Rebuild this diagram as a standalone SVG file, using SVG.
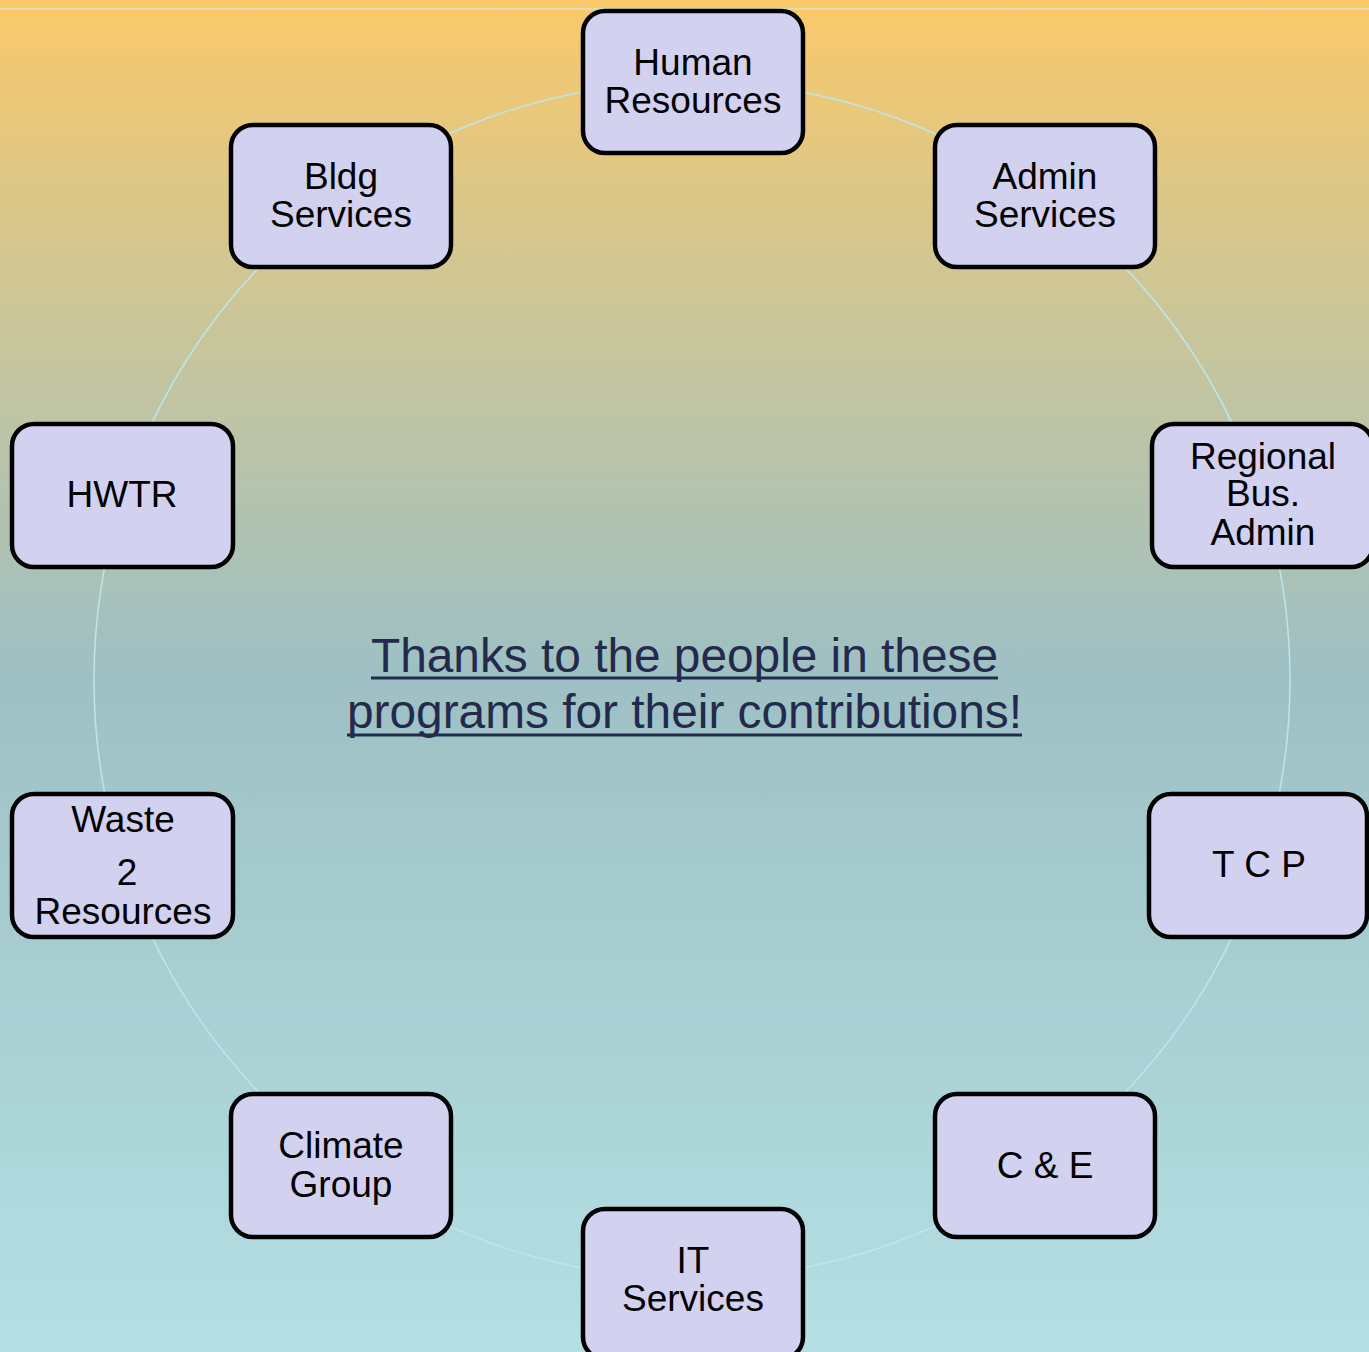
<svg xmlns="http://www.w3.org/2000/svg" width="1369" height="1352" viewBox="0 0 1369 1352">
<defs>
<linearGradient id="bg" x1="0" y1="0" x2="0" y2="1">
<stop offset="0" stop-color="#fac96a"/>
<stop offset="0.22" stop-color="#cdc696"/>
<stop offset="0.5" stop-color="#9ec0c4"/>
<stop offset="1" stop-color="#b4e0e3"/>
</linearGradient>
<style>
.box{fill:#d2d2f0;stroke:#000;stroke-width:4.5}
.lbl{font-family:"Liberation Sans",Arial,sans-serif;font-size:37px;fill:#000;text-anchor:middle}
.title{font-family:"Liberation Sans",Arial,sans-serif;font-size:48px;fill:#232a4c}
.ul{stroke:#232a4c;stroke-width:3}
</style>
</defs>
<rect width="1369" height="1352" fill="url(#bg)"/>
<line x1="0" y1="9" x2="1369" y2="9" stroke="#cfe3d6" stroke-width="1.5"/>
<g id="connectors">
<circle cx="692" cy="680" r="598" fill="none" stroke="#bde6ea" stroke-width="1.5"/>
</g>
<g id="hr"><rect class="box" x="583" y="11" width="220" height="142" rx="22"/><text class="lbl" x="693" y="75">Human</text><text class="lbl" x="693" y="113">Resources</text></g>
<g id="admin"><rect class="box" x="935" y="125" width="220" height="142" rx="22"/><text class="lbl" x="1045" y="189">Admin</text><text class="lbl" x="1045" y="227">Services</text></g>
<g id="bldg"><rect class="box" x="231" y="125" width="220" height="142" rx="22"/><text class="lbl" x="341" y="189">Bldg</text><text class="lbl" x="341" y="227">Services</text></g>
<g id="hwtr"><rect class="box" x="12" y="424" width="221" height="143" rx="22"/><text class="lbl" x="122" y="507">HWTR</text></g>
<g id="regional"><rect class="box" x="1152" y="424" width="221" height="143" rx="22"/><text class="lbl" x="1263" y="469">Regional</text><text class="lbl" x="1263" y="506">Bus.</text><text class="lbl" x="1263" y="545">Admin</text></g>
<g id="waste"><rect class="box" x="12" y="794" width="221" height="143" rx="22"/><text class="lbl" x="123" y="832">Waste</text><text class="lbl" x="127" y="885">2</text><text class="lbl" x="123" y="924">Resources</text></g>
<g id="tcp"><rect class="box" x="1149" y="794" width="218" height="143" rx="22"/><text class="lbl" x="1259" y="877">T C P</text></g>
<g id="climate"><rect class="box" x="231" y="1094" width="220" height="143" rx="22"/><text class="lbl" x="341" y="1158">Climate</text><text class="lbl" x="341" y="1197">Group</text></g>
<g id="ce"><rect class="box" x="935" y="1094" width="220" height="143" rx="22"/><text class="lbl" x="1045" y="1178">C &amp; E</text></g>
<g id="it"><rect class="box" x="583" y="1209" width="220" height="150" rx="22"/><text class="lbl" x="693" y="1273">IT</text><text class="lbl" x="693" y="1311">Services</text></g>
<g id="title">
<text class="title" x="371" y="672" textLength="627" lengthAdjust="spacingAndGlyphs">Thanks to the people in these</text>
<line class="ul" x1="371" y1="678" x2="998" y2="678"/>
<text class="title" x="347" y="728" textLength="675" lengthAdjust="spacingAndGlyphs">programs for their contributions!</text>
<line class="ul" x1="347" y1="735" x2="1022" y2="735"/>
</g>
</svg>
